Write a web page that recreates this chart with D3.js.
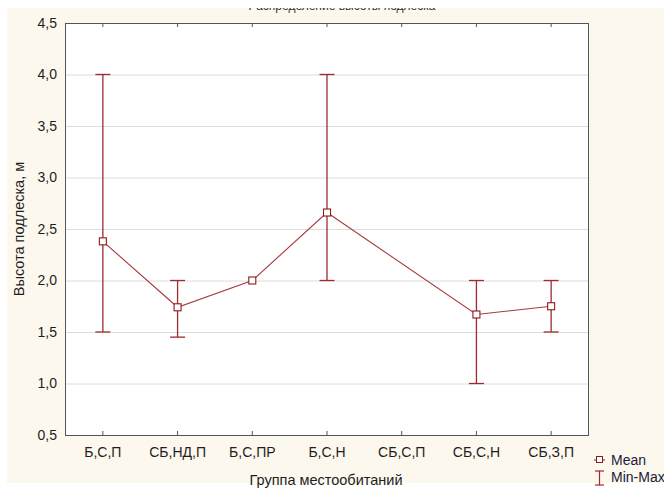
<!DOCTYPE html>
<html><head><meta charset="utf-8">
<script src="https://cdn.jsdelivr.net/npm/d3@7/dist/d3.min.js"></script>
<style>html,body{margin:0;padding:0;background:#fff;}svg{display:block;}</style>
</head><body>
<svg id="c" width="664" height="488"></svg>
<script>
const categories = ["Б,С,П","СБ,НД,П","Б,С,ПР","Б,С,Н","СБ,С,П","СБ,С,Н","СБ,З,П"];
const meanValues = [2.38, 1.74, 2.0, 2.66, null, 1.67, 1.75];
const minValues  = [1.5, 1.45, 2.0, 2.0, null, 1.0, 1.5];
const maxValues  = [4.0, 2.0, 2.0, 4.0, null, 2.0, 2.0];
const yTicks = [0.5,1.0,1.5,2.0,2.5,3.0,3.5,4.0,4.5];

const svg = d3.select("#c");
const font = "'Liberation Sans', Arial, sans-serif";
const L = 65, R = 588, T = 23, B = 435;
const txt = "#1e1e1e";

svg.append("rect").attr("x",7).attr("y",8).attr("width",657).attr("height",475).attr("fill","#fdf8ee");
svg.append("text").attr("x",342).attr("y",9.5).attr("text-anchor","middle")
  .attr("font-family",font).attr("font-size",12).attr("fill","#333")
  .text("Распределение высоты подлеска");
svg.append("rect").attr("x",0).attr("y",0).attr("width",664).attr("height",8).attr("fill","#fff");

const x = d3.scalePoint().domain(categories).range([L,R]).padding(0.5);
const y = d3.scaleLinear().domain([0.5,4.5]).range([B,T]);

svg.append("rect").attr("x",L).attr("y",T).attr("width",R-L).attr("height",B-T).attr("fill","#fff");

// gridlines
svg.append("g").selectAll("line").data(yTicks.slice(1,-1)).join("line")
  .attr("x1",L).attr("x2",R).attr("y1",d=>y(d)+0.5).attr("y2",d=>y(d)+0.5)
  .attr("stroke","#dcdcdc").attr("stroke-width",1);

// axes
const fmt = d => d.toFixed(1).replace(".",",");
const yAxis = svg.append("g").attr("transform",`translate(${L},0)`)
  .call(d3.axisLeft(y).tickValues(yTicks).tickFormat(fmt).tickSize(0).tickPadding(8));
yAxis.select(".domain").remove();
yAxis.selectAll("text").attr("font-family",font).attr("font-size",14).attr("fill",txt);

const xAxis = svg.append("g").attr("transform",`translate(0,${B})`)
  .call(d3.axisBottom(x).tickSize(-4).tickPadding(12));
xAxis.select(".domain").remove();
xAxis.selectAll("line").attr("stroke","#555");
xAxis.selectAll("text").attr("font-family",font).attr("font-size",14).attr("fill",txt);

const xTop = svg.append("g").attr("transform",`translate(0,${T})`)
  .call(d3.axisTop(x).tickSize(-4).tickFormat(""));
xTop.select(".domain").remove();
xTop.selectAll("line").attr("stroke","#555");

svg.append("rect").attr("x",L+0.5).attr("y",T+0.5).attr("width",R-L).attr("height",B-T)
  .attr("fill","none").attr("stroke","#555").attr("stroke-width",1);

// axis titles
svg.append("text").attr("transform","translate(24,229) rotate(-90)").attr("text-anchor","middle")
  .attr("font-family",font).attr("font-size",14.5).attr("fill",txt).text("Высота подлеска, м");
svg.append("text").attr("x",326).attr("y",485).attr("text-anchor","middle")
  .attr("font-family",font).attr("font-size",14.5).attr("fill",txt).text("Группа местообитаний");

const data = categories.map((c,i)=>({c, mean:meanValues[i], min:minValues[i], max:maxValues[i]}))
  .filter(d=>d.mean!==null);

const red = "#9e2a2f";
// error bars
const eb = svg.append("g").attr("stroke",red).attr("stroke-width",1.3);
data.filter(d=>d.max>d.min).forEach(d=>{
  const cx = x(d.c)+0.5;
  eb.append("line").attr("x1",cx).attr("x2",cx).attr("y1",y(d.max)).attr("y2",y(d.min));
  eb.append("line").attr("x1",cx-7.5).attr("x2",cx+7.5).attr("y1",y(d.max)).attr("y2",y(d.max));
  eb.append("line").attr("x1",cx-7.5).attr("x2",cx+7.5).attr("y1",y(d.min)).attr("y2",y(d.min));
});

// mean line
svg.append("path").datum(data)
  .attr("d",d3.line().x(d=>x(d.c)+0.5).y(d=>y(d.mean)))
  .attr("fill","none").attr("stroke","#a83a3e").attr("stroke-width",1.1);

// markers
svg.append("g").selectAll("rect").data(data).join("rect")
  .attr("x",d=>x(d.c)-3).attr("y",d=>y(d.mean)-3.5).attr("width",7).attr("height",7)
  .attr("fill","#fff").attr("stroke","#8b1a1e").attr("stroke-width",1.1);

// legend
const lg = svg.append("g");
lg.append("line").attr("x1",594).attr("x2",605).attr("y1",460).attr("y2",460).attr("stroke",red).attr("stroke-width",1.1);
lg.append("rect").attr("x",596.5).attr("y",456.5).attr("width",6).attr("height",6).attr("fill","#fff").attr("stroke","#8b1a1e");
lg.append("text").attr("x",611).attr("y",465).attr("font-family",font).attr("font-size",14).attr("fill","#1a1a3a").text("Mean");
lg.append("line").attr("x1",599.5).attr("x2",599.5).attr("y1",471).attr("y2",485).attr("stroke",red).attr("stroke-width",1.2);
lg.append("line").attr("x1",595).attr("x2",604).attr("y1",471).attr("y2",471).attr("stroke",red).attr("stroke-width",1.2);
lg.append("line").attr("x1",595).attr("x2",604).attr("y1",485).attr("y2",485).attr("stroke",red).attr("stroke-width",1.2);
lg.append("text").attr("x",611).attr("y",482).attr("font-family",font).attr("font-size",14).attr("fill","#1a1a3a").text("Min-Max");
</script>
</body></html>
